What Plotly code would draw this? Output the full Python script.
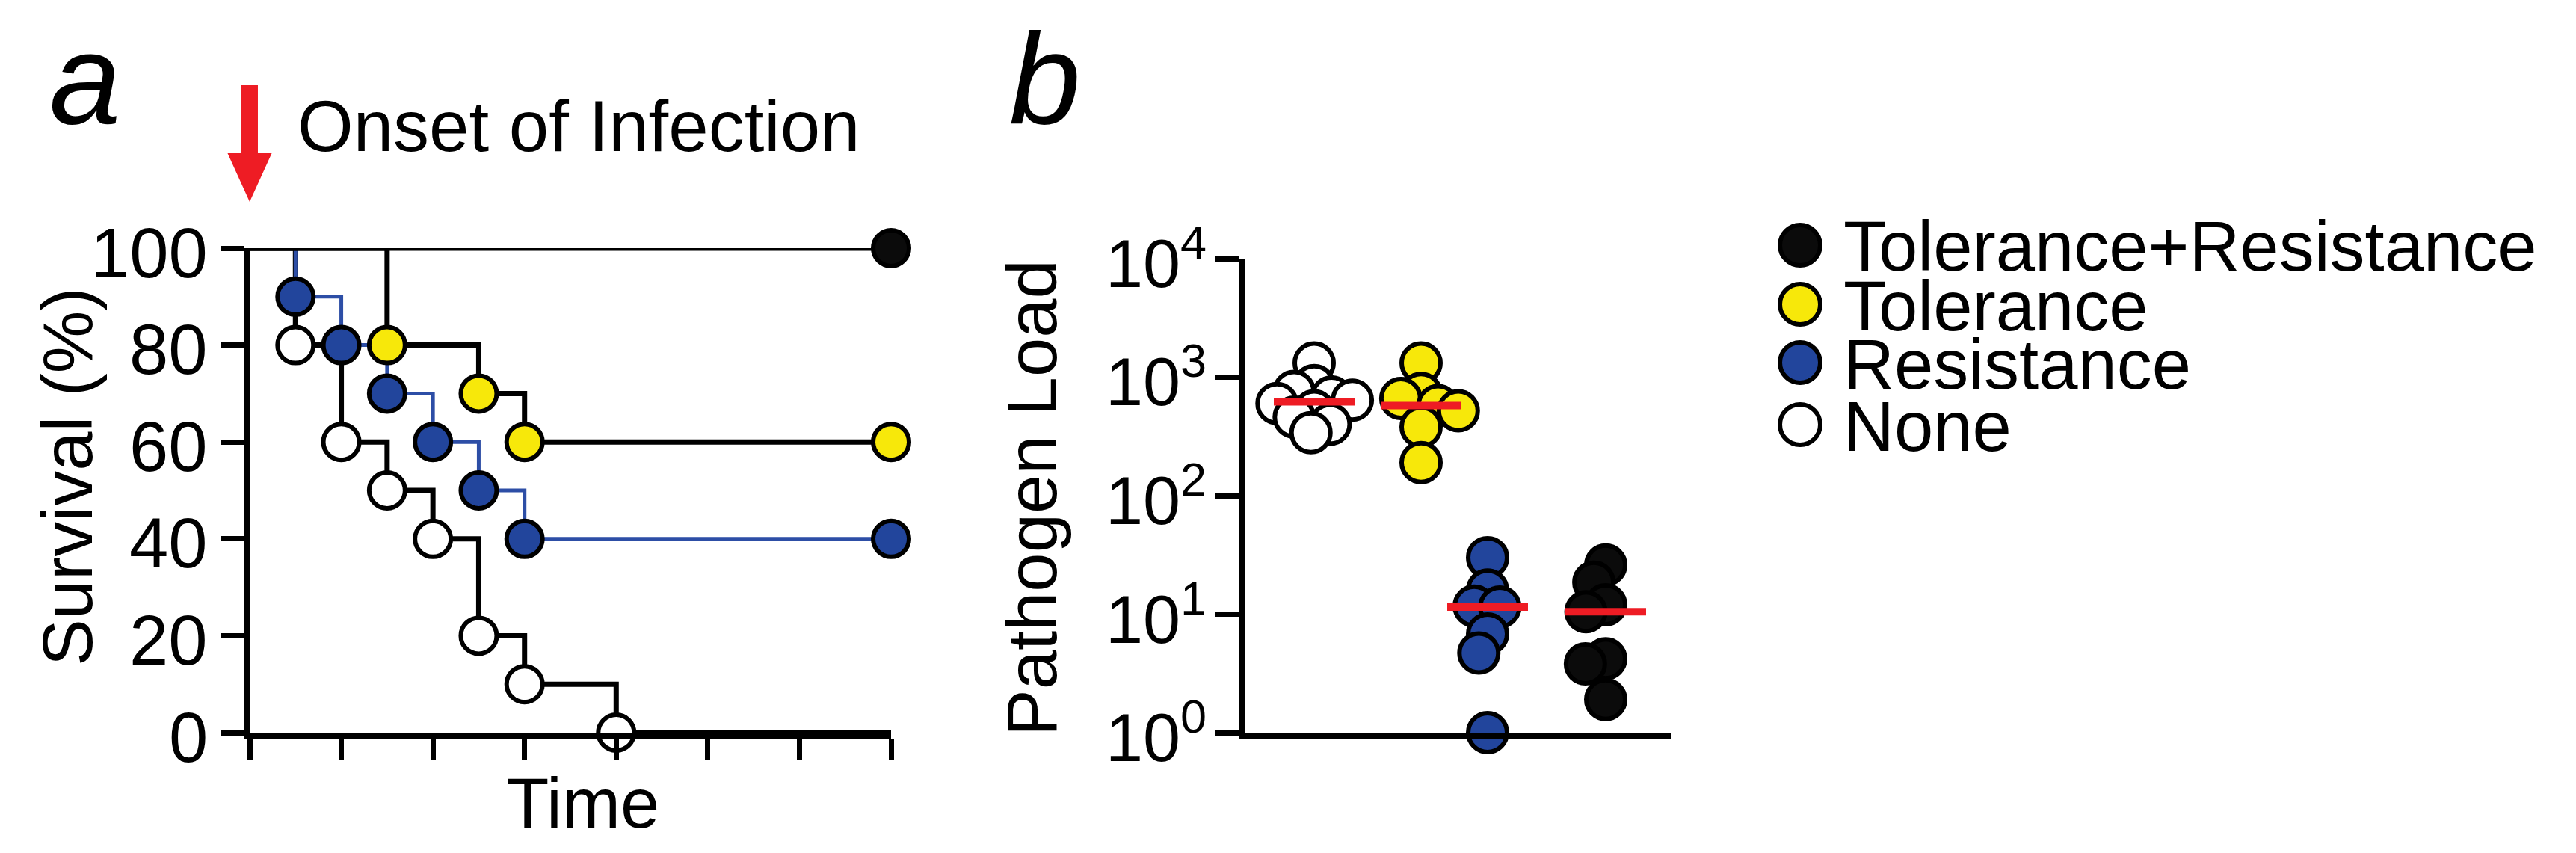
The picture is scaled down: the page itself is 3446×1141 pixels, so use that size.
import numpy as np
import plotly.graph_objects as go

W, H = 3446, 1141

# ---- panel a: survival curves ----
END_TIME = 7
SURV_GROUPS = ["None", "Resistance", "Tolerance", "Tolerance+Resistance"]
event_times = {
    "None": [0.5, 1, 1.5, 2, 2.5, 3, 4],
    "Resistance": [0.5, 1, 1.5, 2, 2.5, 3],
    "Tolerance": [1.5, 2.5, 3],
    "Tolerance+Resistance": [],
}
survival_pct = {
    "None": [80, 60, 50, 40, 20, 10, 0],
    "Resistance": [90, 80, 70, 60, 50, 40],
    "Tolerance": [80, 70, 60],
    "Tolerance+Resistance": [],
}
surv_ticks = [0, 20, 40, 60, 80, 100]

# ---- panel b: pathogen load ----
LOAD_GROUPS = ["None", "Tolerance", "Resistance", "Tolerance+Resistance"]
load_none = [1320, 850, 760, 680, 640, 600, 520, 460, 400, 340]
load_tolerance = [1320, 730, 660, 575, 520, 380, 190]
load_resistance = [30, 16, 11.7, 11.5, 6.8, 4.7, 1]
load_tol_res = [26, 18.6, 12, 10.5, 4.2, 3.8, 1.9]
load_tick_vals = [1, 10, 100, 1000, 10000]
load_tick_text = ["10<sup>0</sup>", "10<sup>1</sup>", "10<sup>2</sup>",
                  "10<sup>3</sup>", "10<sup>4</sup>"]

LEGEND_ORDER = ["Tolerance+Resistance", "Tolerance", "Resistance", "None"]

fill = {
    "None": "white",
    "Tolerance": "#f7e80a",
    "Resistance": "#22459c",
    "Tolerance+Resistance": "#0b0b0b",
}
line_col = {
    "None": "black",
    "Tolerance": "black",
    "Resistance": "#2d4ea6",
    "Tolerance+Resistance": "black",
}
FONT = "Liberation Sans, Arial, sans-serif"

# pixel geometry (style only)
A_X0, A_X1, A_Y0, A_Y1 = 326, 1184, 324, 972
B_X0, B_X1, B_Y0, B_Y1 = 1657, 2228, 338, 972
B_GROUP_POS = [93, 236, 325, 483]  # px from axis start
B_MARKER = 52


def px(x):
    return x / W


def py(y):
    return 1 - y / H


def swarm(values, dmin, px_per_decade):
    """Beeswarm x offsets (px) for log-scaled values."""
    ys = np.log10(np.asarray(values, float)) * px_per_decade
    offs = np.zeros(len(ys))
    placed = []
    for i in np.argsort(-ys):
        bad = []
        for xj, yj in placed:
            dy = abs(ys[i] - yj)
            if dy < dmin:
                h = np.sqrt(dmin ** 2 - dy ** 2)
                bad.append((xj - h, xj + h))
        cands = sorted([0.0] + [a for a, _ in bad] + [b for _, b in bad],
                       key=abs)
        for c in cands:
            if all(not (a + 1e-6 < c < b - 1e-6) for a, b in bad):
                offs[i] = c
                break
        placed.append((offs[i], ys[i]))
    return offs


fig = go.Figure()

# survival step lines
for g in SURV_GROUPS:
    t = [0] + event_times[g] + [END_TIME]
    s = [100] + survival_pct[g] + [survival_pct[g][-1] if survival_pct[g] else 100]
    fig.add_trace(go.Scatter(
        x=t, y=s, mode="lines", line_shape="hv",
        line=dict(color=line_col[g], width=5 if g == "Resistance" else 7),
        cliponaxis=False, xaxis="x", yaxis="y", hoverinfo="skip",
    ))
# survival markers: each event plus censored survivors at end
for g in SURV_GROUPS:
    t = list(event_times[g])
    s = list(survival_pct[g])
    last = s[-1] if s else 100
    if last > 0:
        t.append(END_TIME)
        s.append(last)
    fig.add_trace(go.Scatter(
        x=t, y=s, mode="markers",
        marker=dict(size=48, color=fill[g], line=dict(color="black", width=6)),
        cliponaxis=False, xaxis="x", yaxis="y",
    ))

# pathogen load swarm
loads = {
    "None": load_none,
    "Tolerance": load_tolerance,
    "Resistance": load_resistance,
    "Tolerance+Resistance": load_tol_res,
}
ppd = (B_Y1 - B_Y0) / 4
for g, pos in zip(LOAD_GROUPS, B_GROUP_POS):
    vals = loads[g]
    offs = swarm(vals, 28, ppd)
    fig.add_trace(go.Scatter(
        x=pos + offs, y=vals, mode="markers",
        marker=dict(size=B_MARKER, color=fill[g],
                    line=dict(color="black", width=6)),
        cliponaxis=False, xaxis="x2", yaxis="y2",
    ))
for g, pos in zip(LOAD_GROUPS, B_GROUP_POS):
    med = float(np.median(loads[g]))
    fig.add_trace(go.Scatter(
        x=[pos - 54, pos + 54], y=[med, med], mode="lines",
        line=dict(color="#ee1c24", width=10),
        cliponaxis=False, xaxis="x2", yaxis="y2",
    ))

axis_common = dict(showgrid=False, zeroline=False, showline=True,
                   linecolor="black", linewidth=8, ticks="outside",
                   tickcolor="black", tickwidth=7, automargin=False,
                   showticklabels=False)

fig.update_layout(
    template="none",
    width=W, height=H,
    margin=dict(l=0, r=0, t=0, b=0, pad=0),
    paper_bgcolor="white", plot_bgcolor="white",
    showlegend=False,
    font=dict(family=FONT, color="black"),
    xaxis=dict(domain=[px(A_X0), px(A_X1)], range=[0, END_TIME],
               tickvals=list(range(END_TIME + 1)), ticklen=29,
               anchor="y", **axis_common),
    yaxis=dict(domain=[py(A_Y1), py(A_Y0)], range=[0, 100],
               tickvals=surv_ticks, ticklen=30, anchor="x", **axis_common),
    xaxis2=dict(domain=[px(B_X0), px(B_X1)], range=[0, B_X1 - B_X0],
                anchor="y2", showgrid=False, zeroline=False, showline=True,
                linecolor="black", linewidth=8, ticks="",
                showticklabels=False, automargin=False),
    yaxis2=dict(domain=[py(B_Y1), py(B_Y0)], type="log", range=[0, 4],
                tickvals=load_tick_vals, ticklen=31, anchor="x2",
                **axis_common),
)

ann = []


def text(t, x, y, size, xanchor="left", angle=0):
    ann.append(dict(text=t, x=px(x), y=py(y), xref="paper", yref="paper",
                    xanchor=xanchor, yanchor="middle", showarrow=False,
                    textangle=angle,
                    font=dict(size=size, family=FONT, color="black")))


# tick labels, placed on the axes' own scales
for v in surv_ticks:
    ann.append(dict(text=str(v), x=px(272), xref="paper", y=v, yref="y",
                    xanchor="right", yanchor="middle", yshift=-6,
                    showarrow=False,
                    font=dict(size=94, family=FONT, color="black")))
for v, lab in zip(load_tick_vals, load_tick_text):
    ann.append(dict(text=lab, x=px(1608), xref="paper", y=np.log10(v),
                    yref="y2", xanchor="right", yanchor="middle",
                    showarrow=False,
                    font=dict(size=90, family=FONT, color="black")))

text("<i>a</i>", 56, 97, 172)
text("<i>b</i>", 1340, 97, 172)
text("Onset of Infection", 388, 160, 96)
text("Time", 771, 1066, 94, xanchor="center")
text("Survival (%)", 82, 630, 94, xanchor="center", angle=-90)
text("Pathogen Load", 1372, 658, 94, xanchor="center", angle=-90)

# manual legend
leg_y = [320, 399, 477, 560]
shapes = []
for g, yy in zip(LEGEND_ORDER, leg_y):
    shapes.append(dict(type="circle", xref="paper", yref="paper",
                       xsizemode="pixel", ysizemode="pixel",
                       xanchor=px(2400), yanchor=py(yy),
                       x0=-27, x1=27, y0=-27, y1=27,
                       fillcolor=fill[g], line=dict(color="black", width=6)))
    text(g, 2456, yy + 2, 94)

# red arrow marking onset of infection
arrow = [(315, 106), (337, 106), (337, 196), (356, 196), (326, 262),
         (296, 196), (315, 196)]
path = "M " + " L ".join(f"{px(x):.5f},{py(y):.5f}" for x, y in arrow) + " Z"
shapes.append(dict(type="path", path=path, xref="paper", yref="paper",
                   fillcolor="#ee1c24", line=dict(width=0)))

fig.update_layout(annotations=ann, shapes=shapes)
fig.write_html("out.html")
